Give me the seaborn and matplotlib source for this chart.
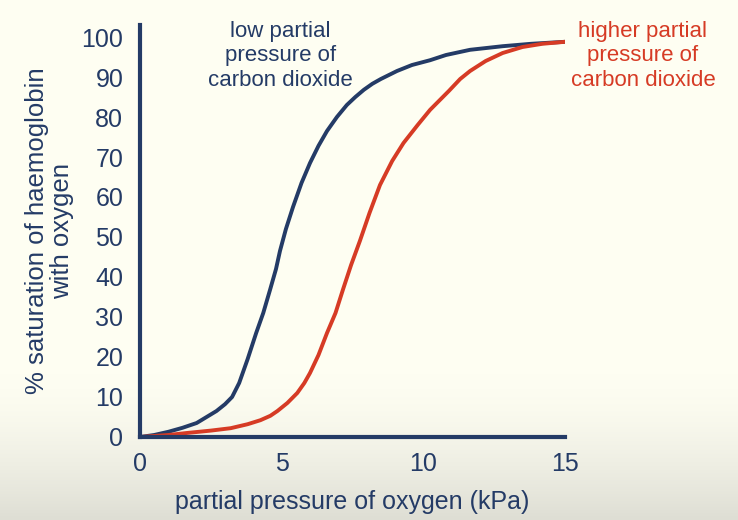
import numpy as np
import pandas as pd
import matplotlib
matplotlib.use("Agg")
import matplotlib.pyplot as plt
import seaborn as sns

# values
low_co2_po2 = [0, 0.5, 1.0, 1.5, 2.0, 2.35, 2.7, 3.0, 3.25, 3.5, 3.8, 4.1, 4.35,
               4.59, 4.8, 4.94, 5.15, 5.4, 5.7, 6.0, 6.3, 6.6, 6.95, 7.3, 7.6,
               7.9, 8.2, 8.5, 9.07, 9.6, 10.24, 10.8, 11.65, 12.8, 13.8, 15]
low_co2_sat = [0, 0.5, 1.3, 2.3, 3.5, 5, 6.5, 8.2, 10, 13.5, 19.5, 26, 31,
               36.8, 42, 46.5, 52, 57.5, 63.5, 68.5, 72.8, 76.5, 80, 83, 85,
               86.8, 88.3, 89.5, 91.5, 93, 94.2, 95.5, 96.8, 97.7, 98.3, 98.8]

high_co2_po2 = [0, 1.0, 1.65, 2.5, 3.2, 3.8, 4.25, 4.6, 4.85, 5.2, 5.55, 5.8,
                6.0, 6.3, 6.6, 6.9, 7.17, 7.45, 7.76, 8.1, 8.47, 8.9, 9.3, 9.8,
                10.24, 10.9, 11.3, 11.65, 12.2, 12.8, 13.5, 14.2, 15]
high_co2_sat = [0, 0.5, 1, 1.6, 2.2, 3.2, 4.2, 5.3, 6.5, 8.5, 11, 13.5,
                16, 20.5, 26, 31, 37, 43, 49, 56, 63, 69, 73.5, 78,
                81.8, 86.5, 89.5, 91.5, 94, 96, 97.5, 98.3, 98.8]

x_ticks = [0, 5, 10, 15]
y_ticks = [0, 10, 20, 30, 40, 50, 60, 70, 80, 90, 100]

navy = "#243b66"
red = "#d63b25"

df = pd.concat([
    pd.DataFrame({"po2": low_co2_po2, "sat": low_co2_sat, "co2": "low"}),
    pd.DataFrame({"po2": high_co2_po2, "sat": high_co2_sat, "co2": "high"}),
])

sns.set_style("white")
plt.rcParams["font.family"] = ["Liberation Sans", "DejaVu Sans"]

fig = plt.figure(figsize=(7.38, 5.2), dpi=100)

# ivory background fading to grey at the bottom
bg = fig.add_axes([0, 0, 1, 1], zorder=-10)
rows = np.linspace(0, 1, 520)
shade = np.clip((rows - 0.72) / 0.28, 0, 1) ** 1.5
top = np.array([254, 254, 242]) / 255
bottom = np.array([222, 222, 212]) / 255
grad = top[None, :] * (1 - shade[:, None]) + bottom[None, :] * shade[:, None]
bg.imshow(np.repeat(grad[:, None, :], 10, axis=1), aspect="auto",
          extent=[0, 1, 0, 1], origin="upper")
bg.axis("off")

ax = fig.add_axes([140 / 738, 1 - 437 / 520, 425 / 738, 412 / 520])
ax.patch.set_alpha(0)

sns.lineplot(data=df, x="po2", y="sat", hue="co2", sort=False,
             palette={"low": navy, "high": red}, linewidth=2.8,
             legend=False, ax=ax, estimator=None)

ax.set_xlim(0, 15)
ax.set_ylim(0, 103)
ax.set_xticks(x_ticks)
ax.set_yticks(y_ticks)
ax.tick_params(length=0, labelsize=18, labelcolor=navy)
ax.tick_params(axis="y", pad=12)
ax.tick_params(axis="x", pad=11)

for side in ["top", "right"]:
    ax.spines[side].set_visible(False)
for side in ["left", "bottom"]:
    ax.spines[side].set_color(navy)
    ax.spines[side].set_linewidth(3)

ax.set_xlabel("partial pressure of oxygen (kPa)", fontsize=18, color=navy,
              labelpad=10)
ax.set_ylabel("% saturation of haemoglobin\nwith oxygen", fontsize=18.5,
              color=navy, labelpad=5, linespacing=1.1)

ax.text(4.95, 95.3, "low partial\npressure of\ncarbon dioxide", fontsize=16,
        color=navy, ha="center", va="center", linespacing=1.22)
ax.text(17.75, 95.3, "higher partial\npressure of\ncarbon dioxide", fontsize=16,
        color=red, ha="center", va="center", linespacing=1.22, clip_on=False)

fig.savefig("out.png", dpi=100)
